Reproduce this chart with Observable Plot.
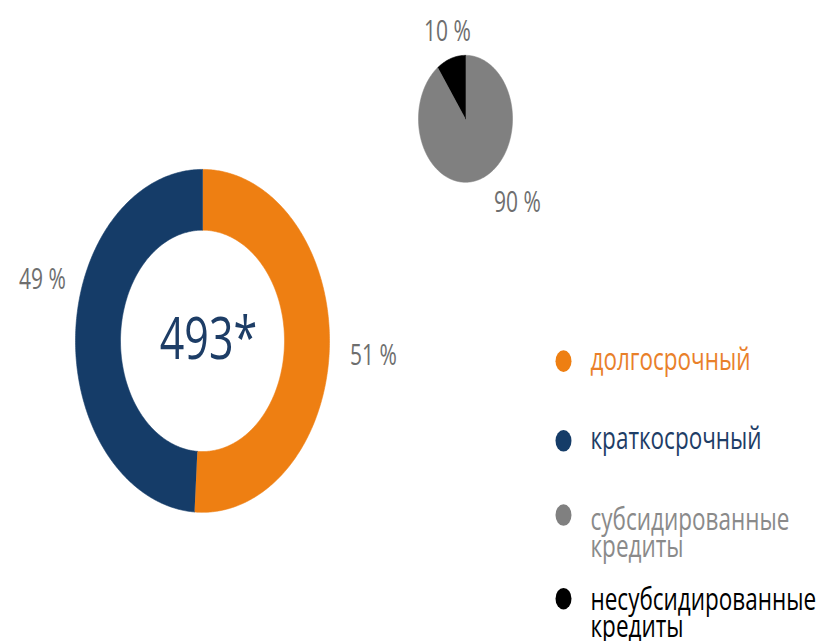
<!DOCTYPE html>
<html>
<head>
<meta charset="utf-8">
<script src="https://cdn.jsdelivr.net/npm/d3@7"></script>
<script src="https://cdn.jsdelivr.net/npm/@observablehq/plot@0.6"></script>
<style>
  html, body { margin: 0; padding: 0; background: #fff; }
  #chart svg { display: block; }
</style>
</head>
<body>
<div id="chart"></div>
<script>
// ---- data ----
const termLabels = ["долгосрочный", "краткосрочный"];
const termShares = [51, 49];
const termColors = ["#EE7F12", "#153C68"];
const totalLabel = "493*";

const subsidyLabels = ["субсидированные\nкредиты", "несубсидированные\nкредиты"];
const subsidyShares = [90, 10];
const subsidyColors = ["#808080", "#000000"];

const pctSuffix = " %";

// ---- layout (internal units; SVG is stretched vertically to match) ----
const W = 827, Hout = 641, stretch = 1.35;
const H = Hout / stretch;
const donut = {cx: 202, cy: 252, r0: 82, r1: 127};
const pie = {cx: 465, cy: 87.5, r: 47};

function slices(shares, colors, c, rIn, rOut, prefix) {
  const total = d3.sum(shares);
  const pts = [];
  let acc = 0;
  shares.forEach((v, i) => {
    const a0 = acc / total * 2 * Math.PI;
    acc += v;
    const a1 = acc / total * 2 * Math.PI;
    const n = Math.max(8, Math.ceil((a1 - a0) / 0.01));
    const key = prefix + i;
    for (let k = 0; k <= n; k++) {
      const a = a0 + (a1 - a0) * k / n;
      pts.push({key, color: colors[i], x: c.cx + rOut * Math.sin(a), y: c.cy - rOut * Math.cos(a)});
    }
    if (rIn > 0) {
      for (let k = n; k >= 0; k--) {
        const a = a0 + (a1 - a0) * k / n;
        pts.push({key, color: colors[i], x: c.cx + rIn * Math.sin(a), y: c.cy - rIn * Math.cos(a)});
      }
    } else {
      pts.push({key, color: colors[i], x: c.cx, y: c.cy});
    }
  });
  return pts;
}

const donutPts = slices(termShares, termColors, donut, donut.r0, donut.r1, "t");
const piePts = slices(subsidyShares, subsidyColors, pie, 0, pie.r, "s");

const pctLabels = [
  {text: termShares[0] + pctSuffix, x: 373, y: 263},
  {text: termShares[1] + pctSuffix, x: 42, y: 207},
  {text: subsidyShares[0] + pctSuffix, x: 517, y: 150},
  {text: subsidyShares[1] + pctSuffix, x: 447, y: 23.5}
];

const legendTextColors = ["#E9802A", "#1E3D66", "#8A8A8A", "#000000"];
const legendItems = [
  {label: termLabels[0], color: termColors[0], tcolor: legendTextColors[0], y: 267, ty: 267},
  {label: termLabels[1], color: termColors[1], tcolor: legendTextColors[1], y: 326, ty: 326},
  {label: subsidyLabels[0], color: subsidyColors[0], tcolor: legendTextColors[2], y: 381, ty: 396},
  {label: subsidyLabels[1], color: subsidyColors[1], tcolor: legendTextColors[3], y: 443, ty: 455}
];

const font = "'Open Sans', 'Segoe UI', sans-serif";

const svg = Plot.plot({
  width: W,
  height: H,
  margin: 0,
  x: {domain: [0, W], range: [0, W], axis: null},
  y: {domain: [0, H], range: [0, H], axis: null},
  style: {fontFamily: font, background: "#fff"},
  marks: [
    Plot.line(donutPts, {x: "x", y: "y", z: "key", fill: "color", stroke: "color", strokeWidth: 0.5, curve: "linear"}),
    Plot.line(piePts, {x: "x", y: "y", z: "key", fill: "color", stroke: "color", strokeWidth: 0.5, curve: "linear"}),
    Plot.text([totalLabel], {x: donut.cx + 6, y: donut.cy, text: d => d, fill: "#1D3D66", fontSize: 43, fontWeight: 400}),
    Plot.text(pctLabels, {x: "x", y: "y", text: "text", fill: "#6E6E6E", fontSize: 21}),
    Plot.dot(legendItems, {x: 563, y: "y", r: 8, fill: "color", stroke: null}),
    Plot.text(legendItems, {x: 590, y: "ty", text: "label", fill: "tcolor", textAnchor: "start", fontSize: 22.5, lineHeight: 0.88})
  ]
});

svg.setAttribute("viewBox", `0 0 ${W} ${H}`);
svg.setAttribute("width", W);
svg.setAttribute("height", Hout);
svg.setAttribute("preserveAspectRatio", "none");
svg.style.width = W + "px";
svg.style.height = Hout + "px";
svg.style.maxWidth = "none";
document.getElementById("chart").appendChild(svg);
</script>
</body>
</html>
